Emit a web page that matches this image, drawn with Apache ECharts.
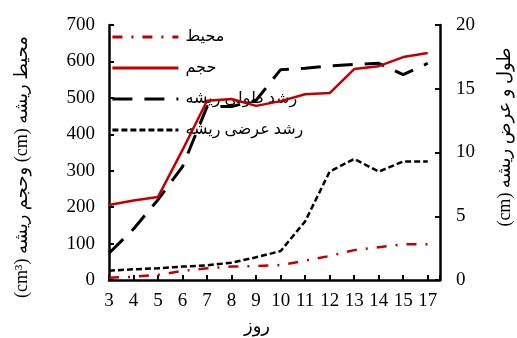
<!DOCTYPE html>
<html>
<head>
<meta charset="utf-8">
<script src="https://cdn.jsdelivr.net/npm/echarts@6/dist/echarts.min.js"></script>
<style>
html,body{margin:0;padding:0;background:#fff;}
#c{width:517px;height:338px;direction:rtl;}
</style>
</head>
<body>
<div id="c"></div>
<script>
var days = ['3','4','5','6','7','8','9','10','11','12','13','14','15','17'];
var perimeter = [6,9,14,25,32,37,38,41,53,66,82,90,98,98];
var volume = [206,218,228,357,492,497,478,491,510,513,579,587,612,623];
var lengthGrowth = [2.1,4.0,6.3,8.9,13.6,13.6,14.1,16.5,16.6,16.8,16.9,17.0,16.1,17.0];
var widthGrowth = [0.73,0.84,0.92,1.05,1.15,1.36,1.78,2.27,4.6,8.5,9.5,8.5,9.3,9.3];
var leftTicks = [0,100,200,300,400,500,600,700];
var rightTicks = [0,5,10,15,20];
var names = ['محیط','حجم','رشد طولی ریشه','رشد عرضی ریشه'];
var leftTitle = 'محیط ریشه (cm) وحجم ریشه (cm³)';
var rightTitle = 'طول و عرض ریشه (cm)';
var xTitle = 'روز';

function pts(arr){ return arr.map(function(v,i){ return [i,v]; }); }
var FONT = "'Liberation Serif','DejaVu Sans',serif";
var chart = echarts.init(document.getElementById('c'), null, {renderer:'canvas'});
var axisCommon = {
  axisLine:{show:true,lineStyle:{color:'#000',width:2.5}},
  axisTick:{show:true,inside:true,length:5,lineStyle:{color:'#000',width:2}},
  splitLine:{show:false},
  axisLabel:{color:'#000',fontFamily:FONT,fontSize:19}
};
chart.setOption({
  animation:false,
  backgroundColor:'#fff',
  grid:{left:109,right:77,top:25,bottom:58,containLabel:false},
  legend:{
    orient:'vertical', left:111, top:24, padding:0,
    itemWidth:66, itemHeight:20, itemGap:5,
    data:names,
    itemStyle:{opacity:0},
    lineStyle:{width:2.8},
    textStyle:{color:'#000',fontFamily:FONT,fontSize:16,lineHeight:20,padding:[6,0,0,2]}
  },
  xAxis:Object.assign({}, axisCommon, {
    type:'value', min:0, max:days.length-0.5, interval:1,
    axisLabel:Object.assign({}, axisCommon.axisLabel, {margin:12, showMaxLabel:true,
      formatter:function(v){ return (Math.round(v)===v && days[v]!==undefined) ? days[v] : ''; }}),
    axisLine:{show:true,onZero:false,lineStyle:{color:'#000',width:2.5}}
  }),
  yAxis:[
    Object.assign({}, axisCommon, {type:'value', position:'left', min:leftTicks[0], max:leftTicks[leftTicks.length-1], interval:100,
      axisLabel:Object.assign({}, axisCommon.axisLabel,{margin:14})}),
    Object.assign({}, axisCommon, {type:'value', position:'right', min:rightTicks[0], max:rightTicks[rightTicks.length-1], interval:5,
      axisLabel:Object.assign({}, axisCommon.axisLabel,{margin:16})})
  ],
  series:[
    {name:names[0], type:'line', yAxisIndex:0, data:pts(perimeter), symbol:'circle', showSymbol:false, z:3,
      lineStyle:{color:'#c00000', width:2.5, type:[10,9,2,9]}, itemStyle:{color:'#c00000'}},
    {name:names[1], type:'line', yAxisIndex:0, data:pts(volume), symbol:'circle', showSymbol:false, z:4,
      lineStyle:{color:'#c00000', width:2.5, type:'solid'}, itemStyle:{color:'#c00000'}},
    {name:names[2], type:'line', yAxisIndex:1, data:pts(lengthGrowth), symbol:'circle', showSymbol:false, z:2,
      lineStyle:{color:'#000', width:3, type:[20,12]}, itemStyle:{color:'#000'}},
    {name:names[3], type:'line', yAxisIndex:1, data:pts(widthGrowth), symbol:'circle', showSymbol:false, z:2,
      lineStyle:{color:'#000', width:2.5, type:[6,3]}, itemStyle:{color:'#000'}}
  ],
  graphic:[
    {type:'text', x:22, y:167, rotation:Math.PI/2, style:{text:leftTitle, fill:'#000', font:'18px '+FONT, align:'center', verticalAlign:'middle'}},
    {type:'text', x:505, y:137, rotation:Math.PI/2, style:{text:rightTitle, fill:'#000', font:'18px '+FONT, align:'center', verticalAlign:'middle'}},
    {type:'text', x:257, y:327, style:{text:xTitle, fill:'#000', font:'18px '+FONT, align:'center', verticalAlign:'middle'}}
  ]
});
</script>
</body>
</html>
